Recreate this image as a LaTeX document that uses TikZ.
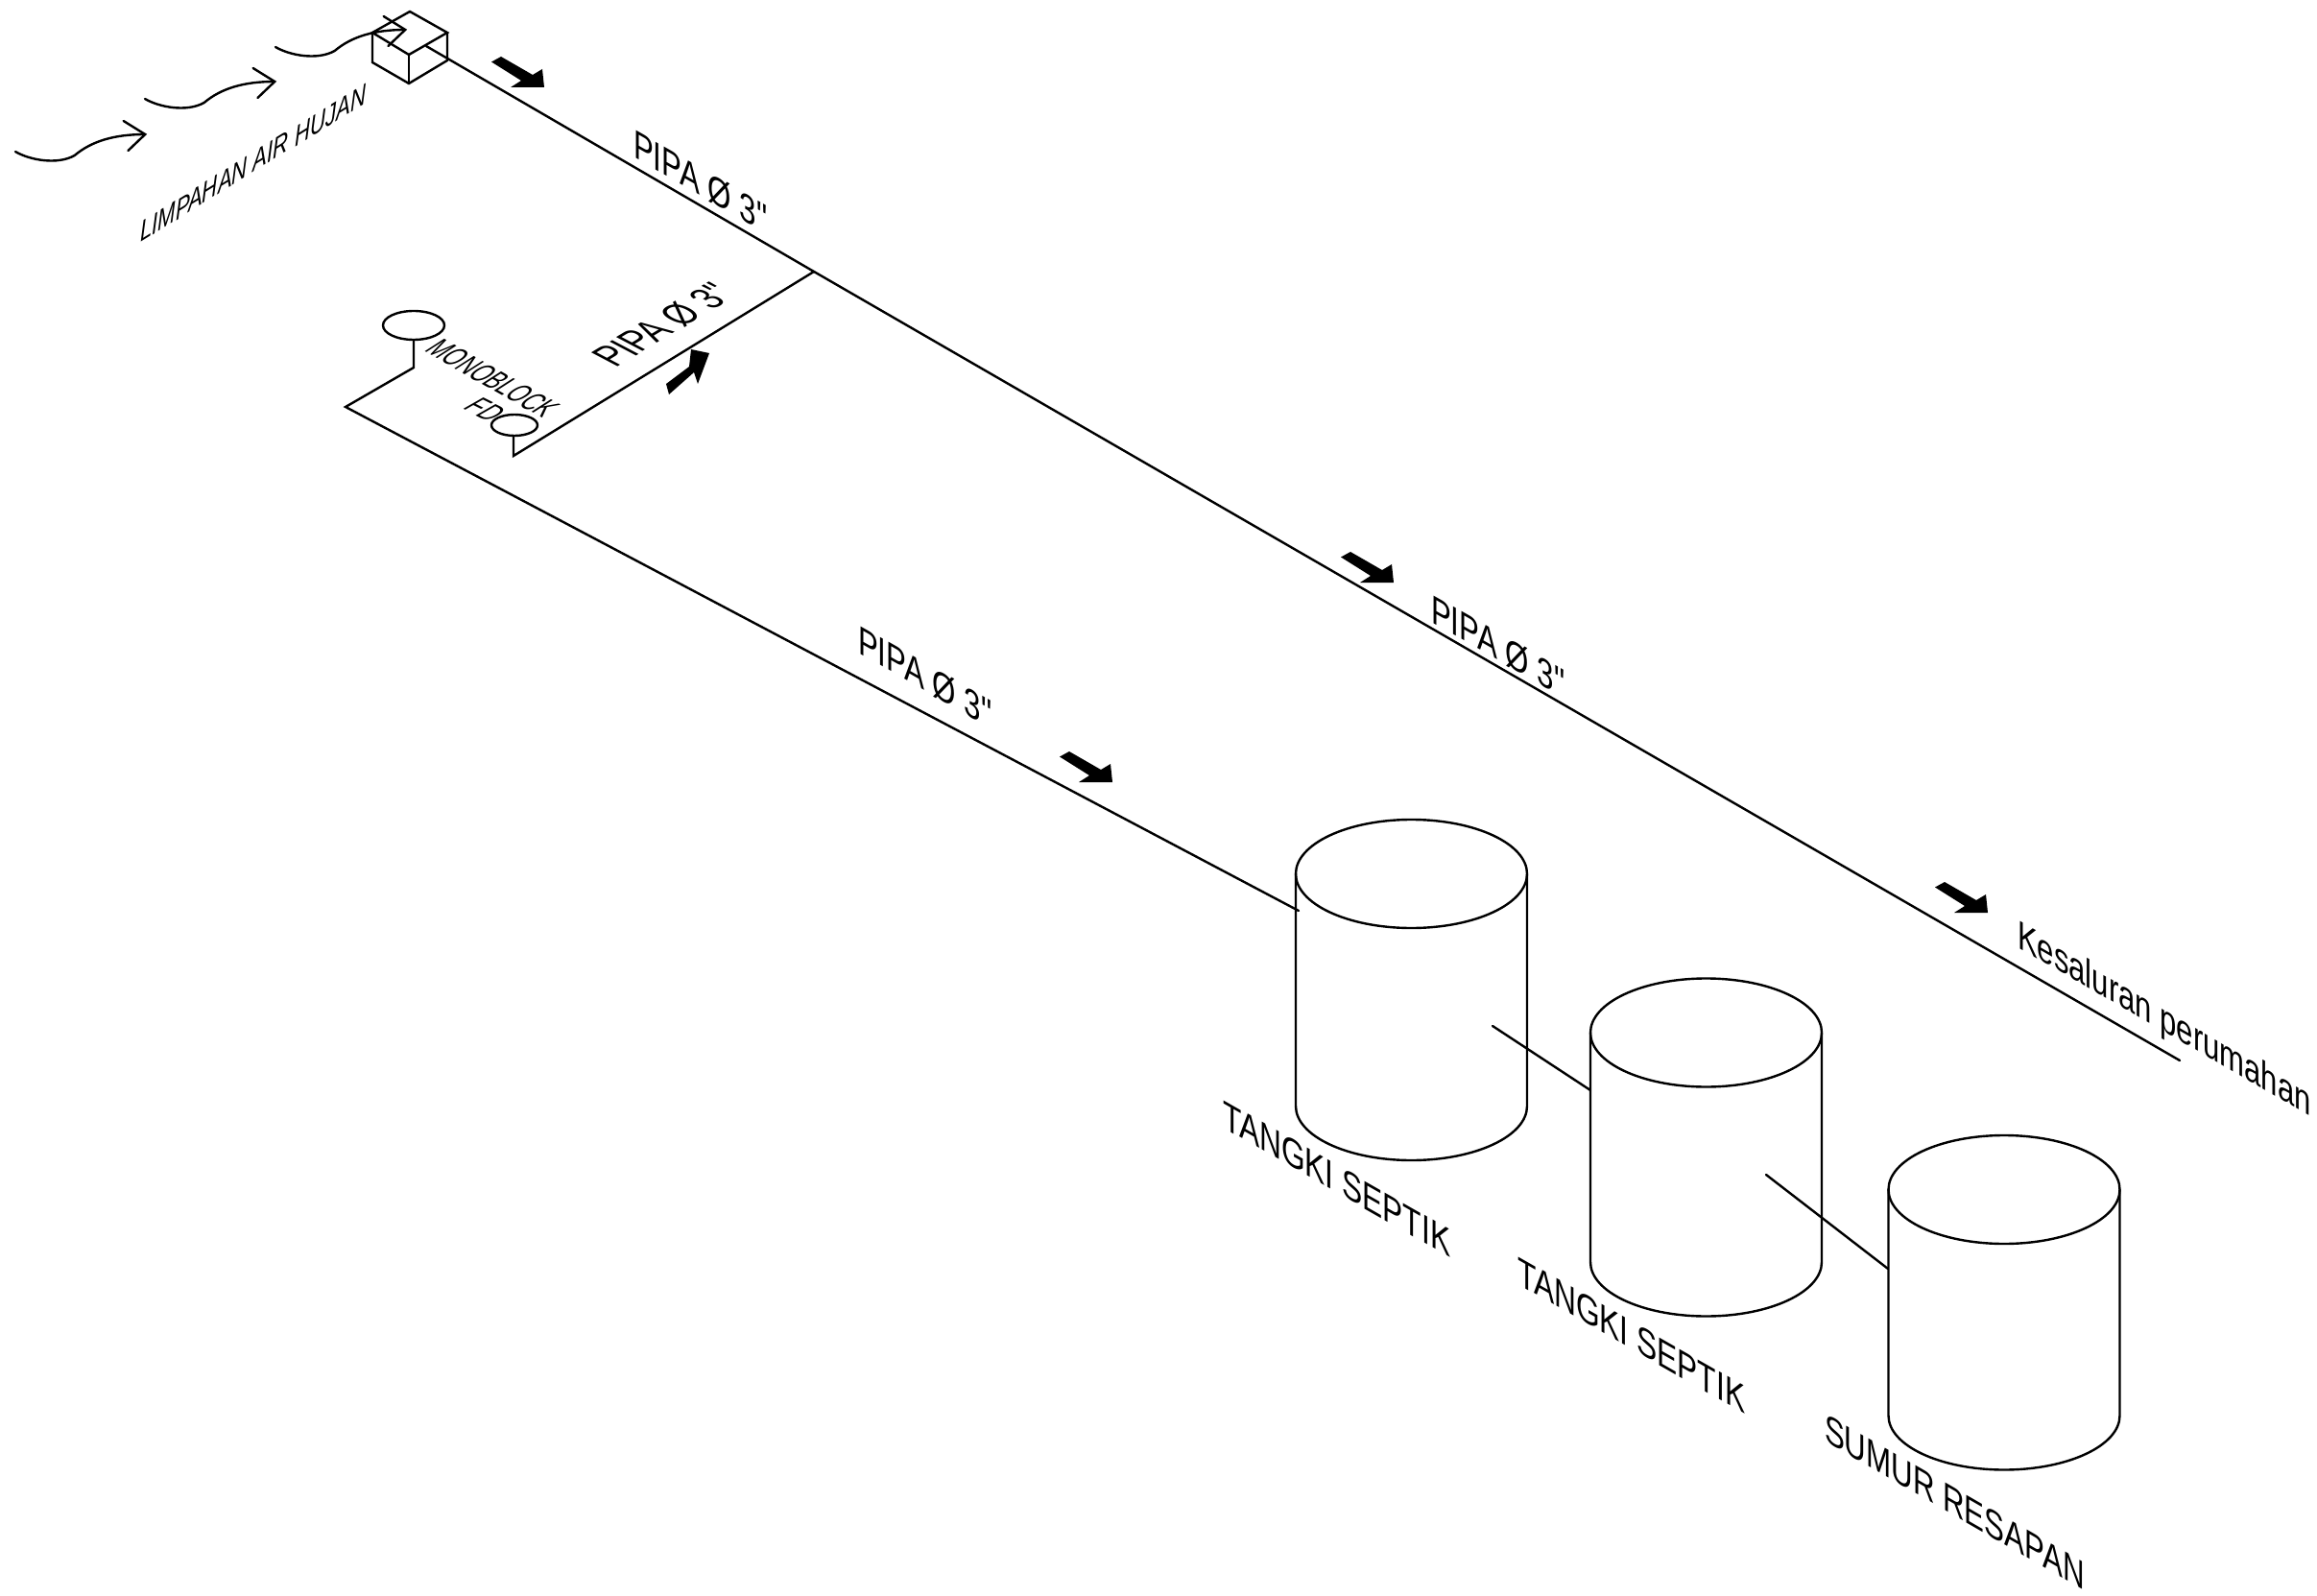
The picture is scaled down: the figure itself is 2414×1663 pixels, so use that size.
\documentclass[tikz,border=0pt]{standalone}
\usepackage{fontspec}
\newfontfamily\lsans{Liberation Sans}
\usetikzlibrary{shapes.geometric}
\tikzset{
  pipe/.style={line width=1.2pt,line cap=round,line join=miter},
  lbl/.style={inner sep=0pt,outer sep=0pt,anchor=base west,font=\lsans\fontsize{21}{21}\selectfont},
  lblsmall/.style={inner sep=0pt,outer sep=0pt,anchor=base west,font=\lsans\fontsize{15}{15}\selectfont\itshape},
  fixture/.style={draw,line width=1.2pt,ellipse,inner sep=0pt},
  flowdown/.pic={\fill (0,0)--(-35,0)--(-24,-7)--(-55,-26.5)--(-45,-32)--(-12,-13)--(-2,-19)--cycle;},
  flowup/.pic={\fill (0,0)--(-19,-4)--(-21,14)--(-45,32)--(-42,43)--(-16,20)--(-12,32)--cycle;},
  wave/.pic={\draw[pipe] (0,0) .. controls (13,9) and (37,14) .. (52,4) .. controls (67,-11) and (87,-18) .. (114,-18);
             \draw[pipe] (95,-32)--(114,-18)--(99,-1);},
  pics/tank/.style={code={\draw[pipe] (0,0) ellipse [x radius=120.5,y radius=56.5];
             \draw[pipe] (-120.5,0)--(-120.5,#1) arc [start angle=180,end angle=360,x radius=120.5,y radius=-56.5]--(120.5,0);}}
}
\begin{document}
\begin{tikzpicture}[x=0.5pt,y=-0.5pt]
\useasboundingbox (0,0) rectangle (2414,1663);
\fill[white] (0,0) rectangle (2414,1663);

% inlet box
\coordinate (bt) at (427,12); \coordinate (br) at (466,34);
\coordinate (bf) at (426,57); \coordinate (bl) at (388,34);
\coordinate (bbl) at (388,65); \coordinate (bbf) at (426,87); \coordinate (bbr) at (466,63);
\draw[pipe] (bt)--(br)--(bf)--(bl)--cycle;
\draw[pipe] (bl)--(bbl)--(bbf)--(bbr)--(br);
\draw[pipe] (bf)--(bbf);

% rain arrows
\pic[xscale=1.186] at (16,158) {wave};
\pic[xscale=1.186] at (151,103) {wave};
\pic[xscale=1.186] at (287,49) {wave};

% main pipe
\coordinate (mainstart) at (444,48);
\coordinate (junction) at (848,283);
\coordinate (mainend) at (2271,1105);
\draw[pipe] (mainstart)--(junction)--(mainend);

% fixtures
\node[fixture,minimum width=32pt,minimum height=15pt] (mono) at (431,339) {};
\node[fixture,minimum width=24pt,minimum height=11pt] (fd) at (536,443) {};
\coordinate (branchlow) at (535,475);
\coordinate (monodown) at (431,383);
\coordinate (corner) at (360,424);
\coordinate (t1in) at (1353,949);
\draw[pipe] (junction)--(branchlow)--(fd.south -| branchlow);
\draw[pipe] (mono.south)--(monodown)--(corner)--(t1in);

% tanks
\pic at (1470.5,910.5) {tank=242};
\pic at (1777.5,1076) {tank=239};
\pic at (2088,1239.5) {tank=235.5};
\coordinate (c1a) at (1555,1069); \coordinate (c1b) at (1657,1136);
\coordinate (c2a) at (1840,1224); \coordinate (c2b) at (1967,1322);
\draw[pipe] (c1a)--(c1b);
\draw[pipe] (c2a)--(c2b);

% block arrows
\pic at (567,91) {flowdown};
\pic at (1159,815) {flowdown};
\pic at (1452,607) {flowdown};
\pic at (2071,951) {flowdown};
\pic at (739,368) {flowup};

% labels
\node[lblsmall,yslant=.62,xscale=.74] (limp) at (146,253) {LIMPAHAN AIR HUJAN};
\node[lbl,yslant=-.57,xscale=.745] (p1) at (660,164) {PIPA Ø 3"};
\node[lbl,cm={0.68,0.41,-0.95,0.5,(0,0)}] (p2) at (641,384) {PIPA Ø 3"};
\node[lbl,yslant=-.57,xscale=.745] (p3) at (894,680) {PIPA Ø 3"};
\node[lbl,yslant=-.57,xscale=.745] (p4) at (1491,648) {PIPA Ø 3"};
\node[lbl,cm={0.455,-0.257,0.7,0.45,(0,0)}] (monol) at (441,366) {MONOBLOCK};
\node[lbl,cm={0.5,-0.25,0.72,0.41,(0,0)}] (fdl) at (481,426) {FD};
\node[lbl,yslant=-.577,xscale=.74] (kes) at (2102,987) {Kesaluran perumahan};
\node[lbl,yslant=-.57,xscale=.755] (t1) at (1274,1175) {TANGKI SEPTIK};
\node[lbl,yslant=-.57,xscale=.755] (t2) at (1581,1338) {TANGKI SEPTIK};
\node[lbl,yslant=-.577,xscale=.745] (s1) at (1901,1501) {SUMUR RESAPAN};
\end{tikzpicture}
\end{document}
